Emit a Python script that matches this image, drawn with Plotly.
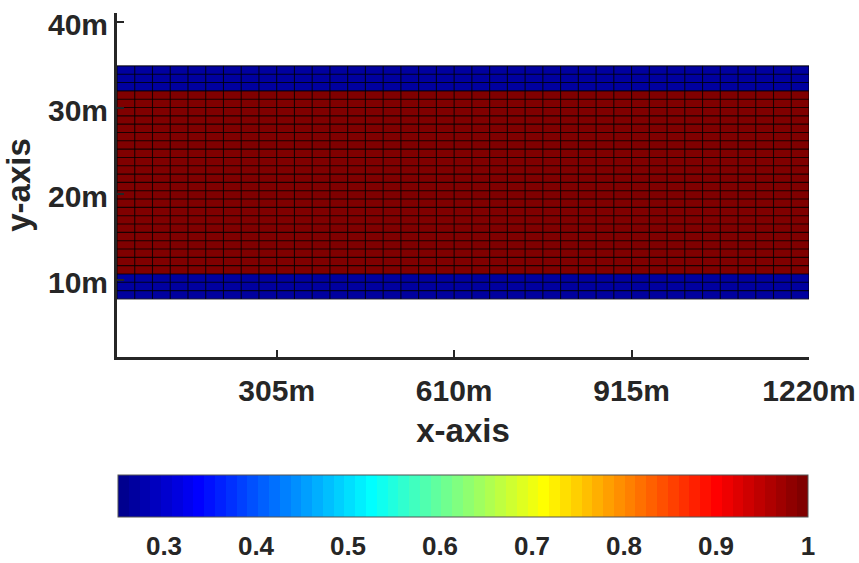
import numpy as np
import plotly.graph_objects as go

# Grid nodes along x (39 cells between 40 nodes) and the vertical extent of the strip
x_nodes = list(range(1, 41))
y_bottom, y_top = 7.75, 34.85

# Per-row cell value, bottom to top: low band, high core, low band
low_value = 0.27
high_value = 1.0
row_values = [low_value] * 3 + [high_value] * 22 + [low_value] * 3

# Axis ticks
x_tick_vals = [10, 20, 30, 40]
x_tick_text = ["305m", "610m", "915m", "1220m"]
y_tick_vals = [10, 20, 30, 40]
y_tick_text = ["10m", "20m", "30m", "40m"]

# Colour limits and colorbar ticks
c_min, c_max = 0.25, 1.0
cbar_tick_vals = [0.3, 0.4, 0.5, 0.6, 0.7, 0.8, 0.9, 1.0]
cbar_tick_text = ["0.3", "0.4", "0.5", "0.6", "0.7", "0.8", "0.9", "1"]


def jet(m=64):
    """MATLAB-style jet colormap with m entries."""
    n = int(np.ceil(m / 4))
    u = np.concatenate([np.arange(1, n + 1) / n, np.ones(n - 1), np.arange(n, 0, -1) / n])
    g = int(np.ceil(n / 2)) - (1 if m % 4 == 1 else 0) + np.arange(1, len(u) + 1)
    r = g + n
    b = g - n
    J = np.zeros((m, 3))
    for chan, idxs in enumerate((r, g, b)):
        for idx, val in zip(idxs, u):
            if 1 <= idx <= m:
                J[idx - 1, chan] = val
    return J


def stepped_scale(cmap):
    k = len(cmap)
    scale = []
    for i, (r, g, b) in enumerate(cmap):
        col = f"rgb({int(round(r * 255))},{int(round(g * 255))},{int(round(b * 255))})"
        scale.append([i / k, col])
        scale.append([(i + 1) / k, col])
    return scale


jet_scale = stepped_scale(jet(64))

n_rows = len(row_values)
y_nodes = np.linspace(y_bottom, y_top, n_rows + 1)
z = [[v] * (len(x_nodes) - 1) for v in row_values]

ink = "#262626"
font_family = "Liberation Sans"

# plot-area size in pixels (used for the colorbar placement)
W, H = 859, 563
m_l, m_r, m_t, m_b = 117, 50, 13, 206
plot_h = H - m_t - m_b

cb_len = 690 / 692
cb_thick = 42
cb_y = -0.343

fig = go.Figure()

fig.add_trace(go.Heatmap(
    x=x_nodes, y=y_nodes, z=z,
    colorscale=jet_scale, zmin=c_min, zmax=c_max,
    hoverinfo="skip",
    colorbar=dict(
        orientation="h", x=0.5, xanchor="center", y=cb_y, yanchor="top",
        len=cb_len, lenmode="fraction", thickness=cb_thick,
        outlinewidth=1, outlinecolor="#555555",
        ticks="outside", ticklen=7, tickwidth=1, tickcolor="white",
        tickvals=cbar_tick_vals, ticktext=cbar_tick_text,
        tickfont=dict(family=font_family, size=26, color=ink, weight="bold"),
        xpad=0, ypad=0,
    ),
))

# faceted cell edges
gx, gy = [], []
for xv in x_nodes:
    gx += [xv, xv, None]
    gy += [y_nodes[0], y_nodes[-1], None]
for yv in y_nodes:
    gx += [x_nodes[0], x_nodes[-1], None]
    gy += [yv, yv, None]
fig.add_trace(go.Scatter(
    x=gx, y=gy, mode="lines",
    line=dict(color="rgba(0,0,0,0.8)", width=1.1),
    hoverinfo="skip", showlegend=False,
))

# small inward tick marks on the colorbar's lower edge
cb_x0 = (1 - cb_len) / 2
cb_bottom = cb_y - cb_thick / plot_h
for v in cbar_tick_vals[:-1]:
    xp = cb_x0 + (v - c_min) / (c_max - c_min) * cb_len
    fig.add_shape(
        type="line", xref="paper", yref="paper",
        x0=xp, x1=xp, y0=cb_bottom, y1=cb_bottom + 5 / plot_h,
        line=dict(color="#444444", width=1),
    )

axis_common = dict(
    showline=True, linewidth=3, linecolor=ink,
    ticks="inside", ticklen=7, tickwidth=2, tickcolor=ink,
    showgrid=False, zeroline=False, mirror=False, automargin=False,
    tickfont=dict(family=font_family, size=30, color=ink, weight="bold"),
)

fig.update_xaxes(
    range=[x_nodes[0], x_nodes[-1]],
    tickvals=x_tick_vals, ticktext=x_tick_text, ticklabelstandoff=5,
    title=dict(text="x-axis", standoff=13,
               font=dict(family=font_family, size=33, color=ink, weight="bold")),
    **axis_common,
)
fig.update_yaxes(
    range=[1, 41],
    tickvals=y_tick_vals, ticktext=y_tick_text, ticklabelshift=3,
    title=dict(text="y-axis", standoff=10,
               font=dict(family=font_family, size=33, color=ink, weight="bold")),
    **axis_common,
)

fig.update_layout(
    width=W, height=H,
    margin=dict(l=m_l, r=m_r, t=m_t, b=m_b, autoexpand=False),
    paper_bgcolor="white", plot_bgcolor="white",
    showlegend=False,
)

fig.write_html("out.html")
